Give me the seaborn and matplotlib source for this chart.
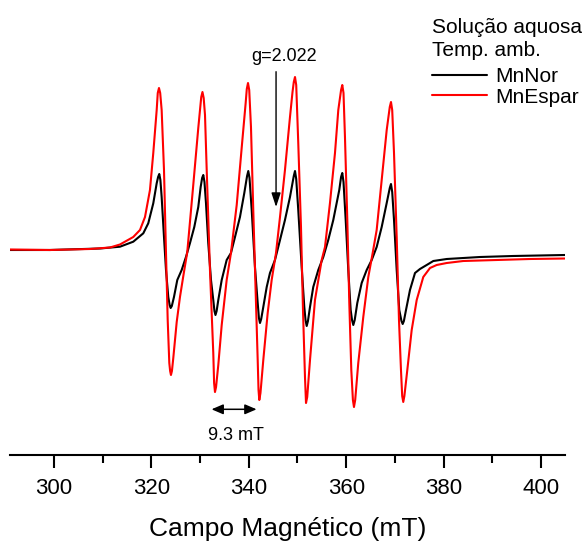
import matplotlib
matplotlib.use("Agg")
import matplotlib.pyplot as plt
from matplotlib.ticker import MultipleLocator
import numpy as np
import pandas as pd
import seaborn as sns

# ---------------- data ----------------
campo_mnnor = [290.97, 299.18, 309.45, 313.55, 316.28, 318.34, 319.36, 320.39, 321.09, 321.38,
               321.62, 321.85, 322.11, 322.59, 323.00, 323.47, 323.75, 323.96, 324.20, 324.64,
               325.32, 326.22, 327.10, 327.93, 328.81, 329.63, 330.12, 330.42, 330.66, 330.90,
               331.21, 331.68, 332.24, 332.71, 332.95, 333.16, 333.40, 333.74, 334.44, 335.46,
               336.34, 337.17, 338.19, 339.08, 339.65, 339.90, 340.15, 340.60, 341.27, 341.83,
               342.08, 342.30, 342.55, 342.98, 343.68, 344.35, 345.38, 346.41, 347.43, 348.46,
               349.24, 349.49, 349.74, 350.16, 350.86, 351.40, 351.65, 351.89, 352.15, 352.57,
               353.24, 354.27, 355.30, 356.32, 357.35, 358.58, 358.95, 359.20, 359.45, 359.90,
               360.43, 360.92, 361.20, 361.46, 361.75, 362.28, 363.18, 364.21, 365.24, 366.26,
               367.29, 368.32, 368.95, 369.20, 369.45, 369.82, 370.37, 370.90, 371.35, 371.60,
               371.85, 372.28, 373.10, 374.13, 375.15, 376.53, 377.89, 380.64, 387.47, 394.25,
               404.93]
sinal_mnnor = [0, 0, 1.5, 3.3, 8.3, 16.7, 26.7, 46.7, 66.7, 73,
               76, 70, 53, 13, -20, -47, -55, -58, -56, -47,
               -30, -20, -7, 7, 23, 43, 63, 72, 75, 68,
               47, 7, -30, -50, -61, -65, -61, -50, -30, -10,
               -3, 13, 33, 57, 74, 79, 72, 40, -17, -53,
               -68, -73, -69, -57, -37, -23, -10, 10, 30, 53,
               74, 79, 71, 40, -17, -57, -70, -76, -71, -57,
               -37, -20, -7, 10, 30, 60, 73, 77, 68, 30,
               -20, -60, -70, -75, -70, -53, -33, -20, -10, 3,
               23, 47, 62, 66, 58, 30, -20, -60, -71, -74,
               -71, -60, -40, -23, -19, -15, -11, -9, -7, -6,
               -5]

campo_mnespar = [290.97, 299.18, 307.39, 311.50, 313.55, 316.28, 317.66, 318.69, 319.71, 320.39,
                 321.09, 321.31, 321.56, 321.81, 322.11, 322.59, 323.00, 323.35, 323.68, 323.85,
                 324.02, 324.22, 324.50, 325.20, 325.87, 326.59, 327.37, 328.60, 329.63, 330.12,
                 330.24, 330.49, 330.74, 331.01, 331.36, 332.03, 332.71, 332.88, 333.06, 333.28,
                 333.74, 334.44, 335.46, 336.34, 337.52, 338.54, 339.36, 339.59, 339.84, 340.09,
                 340.45, 340.92, 341.42, 341.83, 342.00, 342.16, 342.40, 342.98, 343.88, 344.70,
                 345.59, 346.41, 347.43, 348.46, 348.98, 349.24, 349.49, 349.74, 350.16, 350.72,
                 351.13, 351.54, 351.75, 352.00, 352.57, 353.59, 354.97, 355.65, 356.67, 357.70,
                 358.38, 358.95, 359.20, 359.45, 359.75, 360.23, 360.64, 361.05, 361.38, 361.60,
                 361.85, 362.48, 363.51, 364.54, 365.44, 366.26, 367.29, 368.32, 368.95, 369.20,
                 369.45, 369.82, 370.37, 370.84, 371.25, 371.50, 371.72, 371.95, 372.55, 373.45,
                 374.48, 375.83, 377.21, 378.58, 380.64, 384.05, 390.90, 397.74, 404.93]
sinal_mnespar = [0.5, 0, 1, 2.5, 5.5, 13, 20, 33, 60, 97,
                 140, 157, 162, 157, 140, 80, -3, -70, -113, -121,
                 -125, -121, -108, -72, -47, -25, -2, 65, 122, 147,
                 153, 158, 152, 135, 80, -20, -103, -133, -142, -137,
                 -115, -75, -30, -3, 45, 102, 147, 161, 167, 160,
                 123, 40, -43, -110, -140, -150, -143, -110, -63, -30,
                 -3, 33, 80, 133, 158, 168, 173, 165, 107, 23,
                 -60, -127, -153, -147, -110, -50, -10, 3, 47, 97,
                 140, 160, 165, 157, 113, 30, -53, -120, -150, -157,
                 -150, -113, -67, -27, -3, 20, 70, 120, 143, 148,
                 140, 97, 13, -70, -120, -146, -152, -146, -120, -80,
                 -50, -27, -18, -15, -13, -11, -10, -9, -8.5]

amostras = ["MnNor", "MnEspar"]
cores = ["black", "red"]
xticks = [300, 320, 340, 360, 380, 400]
titulo_legenda = ["Solução aquosa", "Temp. amb."]

# ---------------- figure ----------------
sns.set_style("ticks")
plt.rcParams["font.family"] = ["Liberation Sans", "DejaVu Sans"]
plt.rcParams["text.color"] = "black"
plt.rcParams["axes.edgecolor"] = "black"
plt.rcParams["xtick.color"] = "black"
plt.rcParams["axes.labelcolor"] = "black"

W, H = 587, 546
fig = plt.figure(figsize=(W / 100, H / 100), dpi=100)
ax = fig.add_axes([10 / W, 1 - 455 / H, 555 / W, 450 / H])

df = pd.concat([
    pd.DataFrame({"campo": campo_mnnor, "sinal": sinal_mnnor, "amostra": amostras[0]}),
    pd.DataFrame({"campo": campo_mnespar, "sinal": sinal_mnespar, "amostra": amostras[1]}),
], ignore_index=True)

sns.lineplot(data=df, x="campo", y="sinal", hue="amostra", hue_order=amostras,
             palette=dict(zip(amostras, cores)), estimator=None, linewidth=1.5,
             legend=False, ax=ax)
for ln in ax.get_lines():
    ln.set_solid_joinstyle("round")

ax.set_xlim(290.97, 404.93)
ax.set_ylim(-205, 245)
for s in ["left", "top", "right"]:
    ax.spines[s].set_visible(False)
ax.spines["bottom"].set_linewidth(1.5)
ax.set_yticks([])
ax.set_xticks(xticks)
ax.xaxis.set_minor_locator(MultipleLocator(10))
ax.tick_params(axis="x", which="major", length=9.4, width=1.5, direction="out",
               labelsize=16, pad=7, bottom=True)
ax.tick_params(axis="x", which="minor", length=5.5, width=1.5, direction="out", bottom=True)
ax.set_xlabel("Campo Magnético (mT)", fontsize=19, labelpad=13)
ax.set_ylabel("")

# g-value arrow
ax.annotate("", xy=(345.6, 43), xytext=(345.6, 178.3),
            arrowprops=dict(arrowstyle="-|>,head_length=0.85,head_width=0.28",
                            color="black", lw=1.0, mutation_scale=10,
                            shrinkA=0, shrinkB=0), annotation_clip=False)
ax.text(347.3, 189, "g=2.022", fontsize=13, ha="center", va="baseline")

# hyperfine splitting arrow
ax.annotate("", xy=(332.35, -159.3), xytext=(341.6, -159.3),
            arrowprops=dict(arrowstyle="<|-|>,head_length=0.7,head_width=0.3",
                            color="black", lw=1.1, mutation_scale=10,
                            shrinkA=0, shrinkB=0), annotation_clip=False)
ax.text(337.4, -190, "9.3 mT", fontsize=13, ha="center", va="baseline")

# legend
fig.text(432 / W, 1 - 33 / H, titulo_legenda[0], fontsize=15, va="baseline", ha="left")
fig.text(432 / W, 1 - 56 / H, titulo_legenda[1], fontsize=15, va="baseline", ha="left")
leg = ax.legend(handles=ax.get_lines()[:2], labels=amostras, loc="upper left",
                bbox_to_anchor=(432 / W, 1 - 67 / H), bbox_transform=fig.transFigure,
                frameon=False, fontsize=15, handlelength=2.64, handletextpad=0.4,
                borderpad=0, borderaxespad=0, labelspacing=0.08)

fig.savefig("out.png", dpi=100)
